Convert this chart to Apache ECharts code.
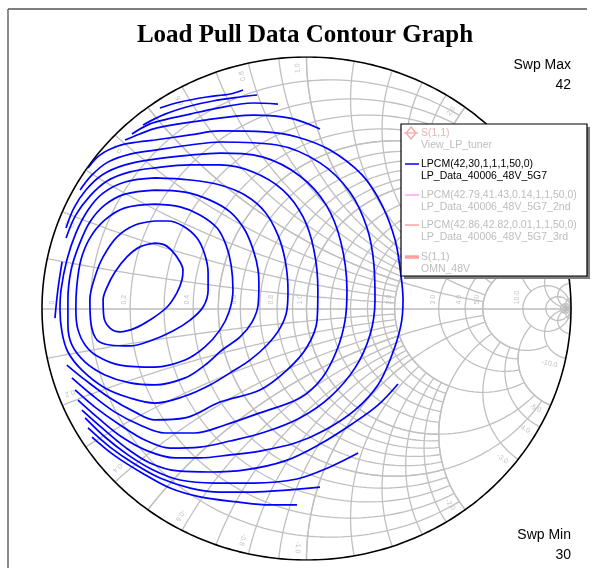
<!DOCTYPE html>
<html>
<head>
<meta charset="utf-8">
<script src="https://cdn.jsdelivr.net/npm/echarts/dist/echarts.min.js"></script>
<style>
  html, body { margin: 0; padding: 0; background: #fff; }
  #chart { width: 597px; height: 568px; }
</style>
</head>
<body>
<div id="chart"></div>
<script>
// Load-pull power contours, one array per level (dBm), each holding one or more
// open/closed segments of reflection-coefficient points [Re(Γ), Im(Γ)].
const level42 = [[[-0.573,0.260],[-0.630,0.245],[-0.679,0.205],[-0.724,0.145],[-0.754,0.085],[-0.769,0.034],[-0.766,-0.034],[-0.743,-0.078],[-0.705,-0.093],[-0.648,-0.078],[-0.592,-0.046],[-0.527,0.006],[-0.490,0.062],[-0.471,0.113],[-0.467,0.153],[-0.478,0.185],[-0.505,0.225],[-0.535,0.252],[-0.573,0.260]]];
const level41 = [[[-0.573,0.348],[-0.648,0.332],[-0.717,0.284],[-0.769,0.205],[-0.800,0.125],[-0.819,0.034],[-0.815,-0.058],[-0.792,-0.125],[-0.743,-0.145],[-0.667,-0.149],[-0.592,-0.129],[-0.505,-0.089],[-0.440,-0.046],[-0.391,0.006],[-0.372,0.074],[-0.372,0.141],[-0.384,0.213],[-0.414,0.280],[-0.467,0.328],[-0.524,0.348],[-0.573,0.348]]];
const level40 = [[[-0.573,0.415],[-0.686,0.400],[-0.762,0.352],[-0.819,0.280],[-0.853,0.193],[-0.868,0.093],[-0.872,-0.006],[-0.864,-0.085],[-0.837,-0.145],[-0.792,-0.189],[-0.705,-0.225],[-0.573,-0.233],[-0.459,-0.205],[-0.384,-0.153],[-0.327,-0.085],[-0.293,-0.014],[-0.278,0.074],[-0.285,0.173],[-0.304,0.252],[-0.338,0.320],[-0.403,0.372],[-0.478,0.404],[-0.573,0.415]]];
const level39 = [[[-0.573,0.471],[-0.686,0.455],[-0.762,0.412],[-0.819,0.344],[-0.860,0.252],[-0.890,0.153],[-0.902,0.034],[-0.902,-0.066],[-0.887,-0.145],[-0.837,-0.213],[-0.762,-0.264],[-0.667,-0.296],[-0.573,-0.304],[-0.459,-0.276],[-0.384,-0.225],[-0.319,-0.165],[-0.251,-0.113],[-0.206,-0.054],[-0.183,0.014],[-0.180,0.093],[-0.183,0.153],[-0.199,0.225],[-0.233,0.312],[-0.289,0.384],[-0.365,0.431],[-0.459,0.463],[-0.573,0.471]]];
const level38 = [[[-0.573,0.519],[-0.686,0.503],[-0.769,0.459],[-0.826,0.392],[-0.872,0.300],[-0.906,0.193],[-0.928,0.074],[-0.932,-0.006],[-0.924,-0.097],[-0.902,-0.173],[-0.849,-0.245],[-0.762,-0.316],[-0.667,-0.356],[-0.573,-0.376],[-0.459,-0.348],[-0.365,-0.304],[-0.289,-0.256],[-0.214,-0.205],[-0.149,-0.145],[-0.100,-0.078],[-0.074,-0.006],[-0.070,0.074],[-0.081,0.193],[-0.108,0.292],[-0.157,0.384],[-0.233,0.451],[-0.327,0.491],[-0.440,0.511],[-0.573,0.519]]];
const level37 = [
  [[-0.909,0.280],[-0.872,0.372],[-0.819,0.447],[-0.754,0.507],[-0.667,0.543],[-0.573,0.559],[-0.440,0.571],[-0.327,0.571],[-0.202,0.543],[-0.089,0.471],[-0.013,0.364],[0.028,0.233],[0.043,0.074],[0.040,-0.046],[0.002,-0.153],[-0.074,-0.245],[-0.176,-0.324],[-0.327,-0.372],[-0.459,-0.435],[-0.573,-0.443],[-0.648,-0.412],[-0.743,-0.356],[-0.837,-0.284],[-0.906,-0.225]],
  [[-0.924,0.185],[-0.940,0.074],[-0.951,-0.038]]
];
const level36 = [[[-0.909,0.320],[-0.879,0.400],[-0.834,0.471],[-0.773,0.531],[-0.686,0.571],[-0.573,0.594],[-0.440,0.610],[-0.327,0.618],[-0.164,0.602],[-0.025,0.527],[0.074,0.412],[0.130,0.264],[0.153,0.074],[0.146,-0.046],[0.115,-0.165],[0.059,-0.276],[-0.025,-0.356],[-0.176,-0.415],[-0.308,-0.463],[-0.422,-0.495],[-0.535,-0.495],[-0.630,-0.463],[-0.724,-0.412],[-0.811,-0.344],[-0.887,-0.276]]];
const level35 = [[[-0.856,0.471],[-0.811,0.531],[-0.751,0.582],[-0.667,0.614],[-0.573,0.630],[-0.440,0.650],[-0.327,0.662],[-0.112,0.650],[0.051,0.579],[0.164,0.463],[0.229,0.320],[0.255,0.173],[0.259,0.034],[0.240,-0.105],[0.183,-0.237],[0.089,-0.352],[-0.025,-0.435],[-0.157,-0.491],[-0.289,-0.527],[-0.403,-0.551],[-0.516,-0.555],[-0.611,-0.523],[-0.705,-0.463],[-0.800,-0.392],[-0.875,-0.324]]];
const level34 = [[[-0.826,0.559],[-0.781,0.610],[-0.713,0.646],[-0.637,0.662],[-0.573,0.670],[-0.440,0.690],[-0.327,0.706],[-0.157,0.702],[-0.036,0.682],[0.089,0.630],[0.210,0.531],[0.285,0.412],[0.335,0.272],[0.357,0.133],[0.365,0.034],[0.357,-0.066],[0.323,-0.185],[0.270,-0.304],[0.183,-0.404],[0.070,-0.483],[-0.043,-0.535],[-0.176,-0.567],[-0.289,-0.582],[-0.403,-0.594],[-0.497,-0.594],[-0.599,-0.567],[-0.698,-0.511],[-0.788,-0.435],[-0.864,-0.364]]];
const level33 = [
  [[-0.686,0.670],[-0.630,0.694],[-0.565,0.718],[-0.403,0.746],[-0.202,0.769],[-0.062,0.757],[0.051,0.714]],
  [[-0.849,-0.404],[-0.773,-0.475],[-0.686,-0.551],[-0.592,-0.614],[-0.486,-0.646],[-0.365,-0.650],[-0.233,-0.642],[-0.081,-0.606],[0.051,-0.539],[0.172,-0.459],[0.270,-0.384],[0.346,-0.300]]
];
const level32 = [
  [[-0.660,0.694],[-0.592,0.734],[-0.527,0.753],[-0.440,0.773],[-0.354,0.793],[-0.202,0.817],[-0.108,0.813]],
  [[-0.837,-0.435],[-0.762,-0.511],[-0.675,-0.582],[-0.580,-0.642],[-0.478,-0.682],[-0.346,-0.694],[-0.202,-0.694],[-0.036,-0.678],[0.089,-0.630],[0.195,-0.575]]
];
const level31 = [
  [[-0.618,0.730],[-0.535,0.773],[-0.440,0.805],[-0.354,0.825],[-0.251,0.841],[-0.187,0.849]],
  [[-0.826,-0.475],[-0.743,-0.551],[-0.656,-0.614],[-0.554,-0.674],[-0.440,-0.714],[-0.327,-0.730],[-0.202,-0.730],[-0.074,-0.722],[0.051,-0.710]]
];
const level30 = [
  [[-0.554,0.797],[-0.478,0.821],[-0.376,0.841],[-0.289,0.853],[-0.240,0.869]],
  [[-0.811,-0.511],[-0.724,-0.586],[-0.622,-0.654],[-0.516,-0.714],[-0.403,-0.749],[-0.263,-0.769],[-0.138,-0.781],[-0.036,-0.781]]
];

const contourLevels = [level42, level41, level40, level39, level38, level37, level36,
                       level35, level34, level33, level32, level31, level30];

const sweepMax = 42;
const sweepMin = 30;

// Smith chart graduations
const resistanceTicks = [0, 0.2, 0.4, 0.6, 0.8, 1.0, 2.0, 3.0, 4.0, 5.0, 10.0];
const reactanceTicks = [0.2, 0.4, 0.6, 0.8, 1.0, 2.0, 3.0, 4.0, 5.0, 10.0];
const fineValues = [0.1, 0.2, 0.3, 0.4, 0.5, 0.6, 0.7, 0.8, 0.9, 1.0, 1.2, 1.4, 1.6, 1.8, 2.0];
const midValues = [0.5, 1, 2, 3, 4, 5];
const coarseValues = [10, 20, 50];

// Legend entries
const legendItems = [
  { title: 'S(1,1)', sub: 'View_LP_tuner', color: '#f2a4a4', icon: 'diamond', active: false },
  { title: 'LPCM(42,30,1,1,1,50,0)', sub: 'LP_Data_40006_48V_5G7', color: '#0000ff', icon: 'line', active: true },
  { title: 'LPCM(42.79,41.43,0.14,1,1,50,0)', sub: 'LP_Data_40006_48V_5G7_2nd', color: '#ffa0ff', icon: 'line', active: false },
  { title: 'LPCM(42.86,42.82,0.01,1,1,50,0)', sub: 'LP_Data_40006_48V_5G7_3rd', color: '#ffa0a0', icon: 'line', active: false },
  { title: 'S(1,1)', sub: 'OMN_48V', color: '#ffa0a0', icon: 'thick', active: false }
];

const activeName = legendItems[1].title;

// ---- Smith chart geometry ----
function gammaOf(r, x) {
  const d = (r + 1) * (r + 1) + x * x;
  return [(r * r + x * x - 1) / d, 2 * x / d];
}
function resistanceCircle(r, xmax, n) {
  n = n || 160;
  const a = Math.atan(xmax);
  const pts = [];
  for (let i = 0; i <= n; i++) {
    const th = -a + 2 * a * i / n;
    pts.push(gammaOf(r, Math.tan(th)));
  }
  return pts;
}
function reactanceArc(x, rmax, n) {
  n = n || 120;
  const b = Math.atan(rmax);
  const pts = [];
  for (let i = 0; i <= n; i++) {
    pts.push(gammaOf(Math.tan(b * i / n), x));
  }
  return pts;
}

const gridCurves = [];
fineValues.forEach(v => {
  gridCurves.push(resistanceCircle(v, 2));
  gridCurves.push(reactanceArc(v, 2));
  gridCurves.push(reactanceArc(-v, 2));
});
midValues.forEach(v => {
  gridCurves.push(resistanceCircle(v, 5));
  gridCurves.push(reactanceArc(v, 5));
  gridCurves.push(reactanceArc(-v, 5));
});
gridCurves.push(resistanceCircle(5, 10));
gridCurves.push(reactanceArc(5, 10));
gridCurves.push(reactanceArc(-5, 10));
coarseValues.forEach(v => {
  gridCurves.push(resistanceCircle(v, Infinity, 200));
  gridCurves.push(reactanceArc(v, Infinity, 200));
  gridCurves.push(reactanceArc(-v, Infinity, 200));
});

const outerCircle = resistanceCircle(0, Infinity, 400);

const GRID_GRAY = '#c0c0c0';

const series = [
  {
    type: 'lines', coordinateSystem: 'cartesian2d', polyline: true, silent: true,
    animation: false, z: 1,
    lineStyle: { color: GRID_GRAY, width: 1.3, opacity: 1 },
    data: gridCurves.map(c => ({ coords: c }))
  },
  {
    type: 'lines', coordinateSystem: 'cartesian2d', silent: true, animation: false, z: 1,
    symbol: ['none', 'arrow'], symbolSize: 8,
    lineStyle: { color: '#bdbdbd', width: 1.6, opacity: 1, curveness: 0 },
    data: [{ coords: [[-1, 0], [1, 0]] }]
  },
  {
    type: 'lines', coordinateSystem: 'cartesian2d', polyline: true, silent: true,
    animation: false, z: 3,
    lineStyle: { color: '#000000', width: 1.6, opacity: 1 },
    data: [{ coords: outerCircle }]
  }
];

contourLevels.forEach(level => {
  level.forEach(seg => {
    series.push({
      type: 'line', name: activeName, data: seg, smooth: 0.35,
      symbol: 'none', showSymbol: false, silent: true, animation: false, z: 5,
      lineStyle: { color: '#0000ff', width: 1.7 }
    });
  });
});

const chart = echarts.init(document.getElementById('chart'), null, { renderer: 'canvas' });
chart.setOption({
  animation: false,
  backgroundColor: '#ffffff',
  grid: { left: 42, top: 57, width: 529, height: 503 },
  xAxis: { type: 'value', min: -1, max: 1, show: false },
  yAxis: { type: 'value', min: -1, max: 1, show: false },
  series: series
});

// ---- Text, labels, legend ----
const toPx = p => chart.convertToPixel({ gridIndex: 0 }, p);
const graphics = [];
const center = toPx([0, 0]);
const edgeX = toPx([1, 0])[0] - center[0];
const edgeY = center[1] - toPx([0, 1])[1];

// frame
graphics.push({ type: 'line', z: 50, shape: { x1: 8, y1: 9, x2: 587, y2: 9 }, style: { stroke: '#555', lineWidth: 1.5 } });
graphics.push({ type: 'line', z: 50, shape: { x1: 8, y1: 9, x2: 8, y2: 568 }, style: { stroke: '#666', lineWidth: 1.5 } });

// title
graphics.push({
  type: 'text', z: 50, x: 305, y: 36,
  style: { text: 'Load Pull Data Contour Graph', font: 'bold 25px "Liberation Serif", "Times New Roman", serif',
           fill: '#000', align: 'center', verticalAlign: 'middle' }
});

// sweep annotations
const swpFont = '14px "Liberation Sans", Arial, sans-serif';
[['Swp Max', 65], [String(sweepMax), 85], ['Swp Min', 535], [String(sweepMin), 555]].forEach(([t, y]) => {
  graphics.push({ type: 'text', z: 50, x: 571, y: y,
    style: { text: t, font: swpFont, fill: '#000', align: 'right', verticalAlign: 'middle' } });
});

// graduation labels
const labelFont = '7px "Liberation Sans", Arial, sans-serif';
const LABEL_GRAY = '#c2c2c2';
resistanceTicks.forEach(r => {
  const p = toPx([(r - 1) / (r + 1), 0]);
  const x = r === 0 ? p[0] + 10 : p[0] - 6;
  graphics.push({
    type: 'text', z: 2, x: x, y: p[1] - 4, rotation: Math.PI / 2,
    style: { text: r === 0 ? '0' : r.toFixed(1), font: labelFont, fill: LABEL_GRAY, align: 'left', verticalAlign: 'middle' }
  });
});
reactanceTicks.forEach(v => {
  [v, -v].forEach(x => {
    const g = gammaOf(0, x);
    let ang = Math.atan2(g[1], g[0]);
    ang += (x > 0 ? 1 : -1) * 0.035;
    const rad = 0.975;
    const ex = center[0] + Math.cos(ang) * edgeX * rad;
    const ey = center[1] - Math.sin(ang) * edgeY * rad;
    const screenAng = Math.atan2(Math.sin(ang) * edgeY, Math.cos(ang) * edgeX);
    graphics.push({
      type: 'text', z: 2, x: ex, y: ey, rotation: screenAng,
      style: { text: x.toFixed(1), font: labelFont, fill: LABEL_GRAY, align: 'right', verticalAlign: 'middle' }
    });
  });
});

// legend box
const LX = 401, LY = 124, LW = 186, LH = 152;
graphics.push({ type: 'rect', z: 100, shape: { x: LX + 3, y: LY + 3, width: LW, height: LH }, style: { fill: '#7f7f7f' } });
graphics.push({ type: 'rect', z: 101, shape: { x: LX, y: LY, width: LW, height: LH }, style: { fill: '#fff', stroke: '#000', lineWidth: 1.2 } });
const rowY = [133, 164, 195, 225, 257];
const legendFont = '10.5px "Liberation Sans", Arial, sans-serif';
legendItems.forEach((it, i) => {
  const y = rowY[i];
  if (it.icon === 'diamond') {
    graphics.push({ type: 'polygon', z: 102, shape: { points: [[411, y - 6], [416, y], [411, y + 6], [406, y]] },
      style: { fill: 'none', stroke: it.color, lineWidth: 1.2 } });
    graphics.push({ type: 'line', z: 102, shape: { x1: 404, y1: y, x2: 418, y2: y }, style: { stroke: it.color, lineWidth: 1.2 } });
  } else {
    graphics.push({ type: 'line', z: 102, shape: { x1: 405, y1: y, x2: 419, y2: y },
      style: { stroke: it.color, lineWidth: it.icon === 'thick' ? 3.5 : 1.5 } });
  }
  const fill = it.active ? '#000' : '#bdbdbd';
  graphics.push({ type: 'text', z: 102, x: 421, y: y,
    style: { text: it.title, font: legendFont, fill: i === 0 ? '#e2b6b6' : fill, align: 'left', verticalAlign: 'middle' } });
  graphics.push({ type: 'text', z: 102, x: 421, y: y + 12.5,
    style: { text: it.sub, font: legendFont, fill: fill, align: 'left', verticalAlign: 'middle' } });
});

chart.setOption({ graphic: graphics });
</script>
</body>
</html>
